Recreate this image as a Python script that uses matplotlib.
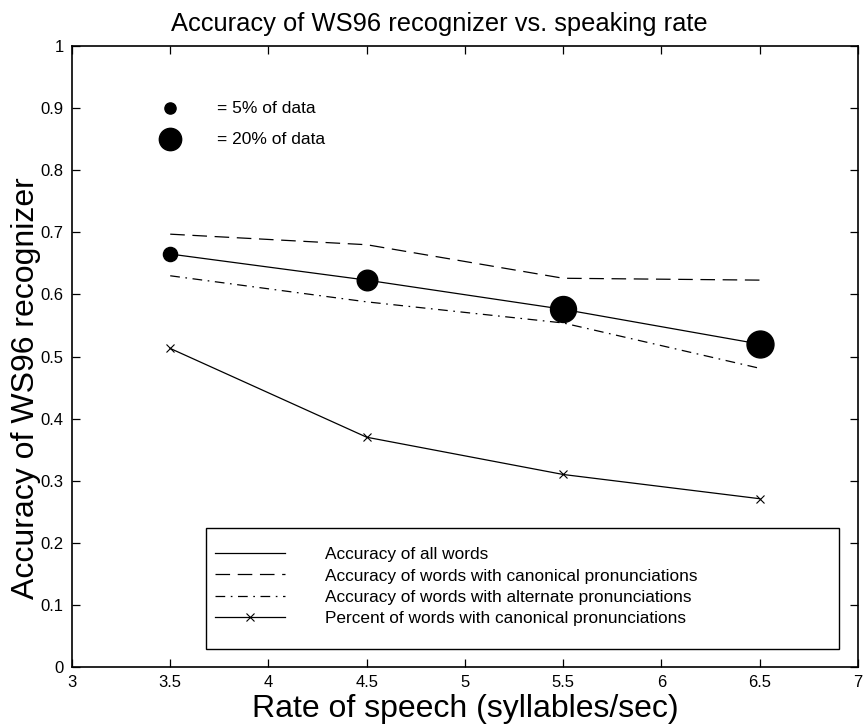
import numpy as np
import matplotlib
matplotlib.use("Agg")
import matplotlib.pyplot as plt
from matplotlib.patches import Rectangle

plt.rcParams['font.family'] = ['Liberation Sans', 'DejaVu Sans']
plt.rcParams['lines.scale_dashes'] = False

# Speaking rate bins (syllables/sec)
rate = [3.5, 4.5, 5.5, 6.5]

# Accuracy curves
acc_all = [0.665, 0.623, 0.576, 0.520]
acc_canonical = [0.697, 0.680, 0.626, 0.623]
acc_alternate = [0.630, 0.588, 0.554, 0.481]
pct_canonical = [0.513, 0.370, 0.310, 0.271]

# Percent of the data falling in each rate bin (sets dot size)
share = [8, 17, 27, 29]
key_share = [5, 20]


def dot_size(p):
    # marker diameter in points grows with sqrt of the share
    return 3.6 * np.sqrt(p)


fig = plt.figure(figsize=(8.64, 7.28), dpi=100)
ax = fig.add_axes([0.0833, 0.0838, 0.9097, 0.853])

ax.plot(rate, acc_all, color='black', lw=0.9, label='Accuracy of all words')
ax.plot(rate, acc_canonical, color='black', lw=0.9, dashes=(10.5, 5.5),
        label='Accuracy of words with canonical pronunciations')
ax.plot(rate, acc_alternate, color='black', lw=0.9, dashes=(7, 4, 1.2, 4),
        label='Accuracy of words with alternate pronunciations')
ax.plot(rate, pct_canonical, color='black', lw=0.9, marker='x', ms=6, mew=0.8,
        label='Percent of words with canonical pronunciations')

# dots on the overall accuracy line, sized by share of data
for x, y, p in zip(rate, acc_all, share):
    ax.plot(x, y, 'o', color='black', ms=dot_size(p), zorder=5)

# size key
for y, p in zip([0.9, 0.85], key_share):
    ax.plot(3.5, y, 'o', color='black', ms=dot_size(p))
    ax.text(3.74, y, '= %d%% of data' % p, fontsize=12.5, va='center', ha='left')

ax.set_xlim(3, 7)
ax.set_ylim(0, 1)
ax.set_xticks(np.arange(3, 7.01, 0.5))
ax.set_xticklabels(['3', '3.5', '4', '4.5', '5', '5.5', '6', '6.5', '7'])
ax.set_yticks(np.arange(0, 1.01, 0.1))
ax.set_yticklabels(['0', '0.1', '0.2', '0.3', '0.4', '0.5', '0.6', '0.7', '0.8', '0.9', '1'])
ax.tick_params(direction='in', top=True, right=True, length=6, width=0.9,
               labelsize=12, pad=6)
for s in ax.spines.values():
    s.set_linewidth(1.2)

ax.set_title('Accuracy of WS96 recognizer vs. speaking rate', fontsize=18.4,
             pad=11, x=0.468)
ax.set_xlabel('Rate of speech (syllables/sec)', fontsize=23, labelpad=3)
ax.set_ylabel('Accuracy of WS96 recognizer', fontsize=23)
ax.yaxis.set_label_coords(-0.040, 0.449)

leg = ax.legend(loc='upper left', bbox_to_anchor=(0.173, 0.204), frameon=False,
                fontsize=12.4, handlelength=4.07, handletextpad=2.33,
                labelspacing=0.36, borderaxespad=0, borderpad=0.4)
ax.add_patch(Rectangle((0.170, 0.029), 0.806, 0.195, transform=ax.transAxes,
                       fill=False, lw=1.0, edgecolor='black', zorder=3))

fig.savefig('out.png', dpi=100)
